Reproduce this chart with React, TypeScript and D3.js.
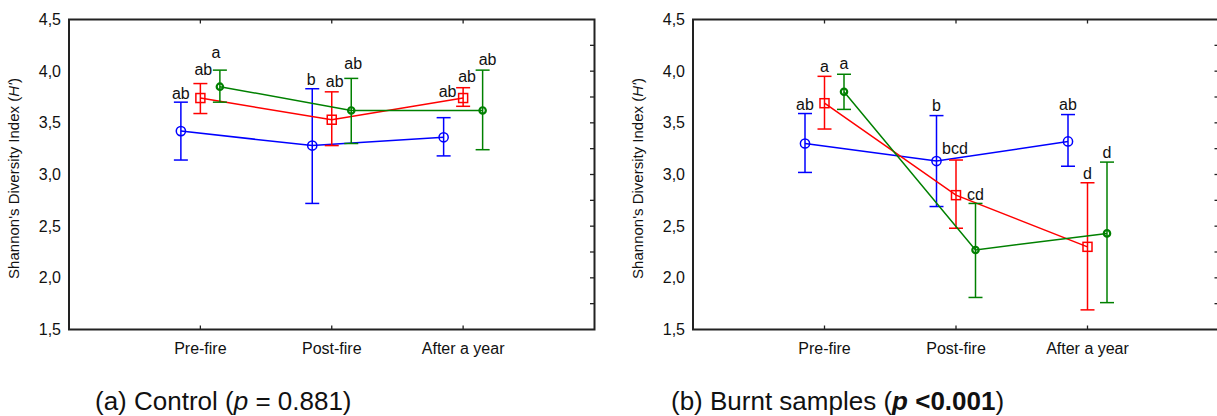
import React from "react";
import * as d3 from "d3";

const categories = ["Pre-fire", "Post-fire", "After a year"];
const seriesKeys = ["blue", "red", "green"];
const seriesColors = ["#0000ff", "#ff0000", "#008000"];
const yTicks = [1.5, 2.0, 2.5, 3.0, 3.5, 4.0, 4.5];

// (a) Control
const controlBlueMean = [3.42, 3.28, 3.36];
const controlBlueLow = [3.14, 2.72, 3.18];
const controlBlueHigh = [3.70, 3.83, 3.55];
const controlRedMean = [3.74, 3.53, 3.74];
const controlRedLow = [3.59, 3.28, 3.66];
const controlRedHigh = [3.88, 3.80, 3.84];
const controlGreenMean = [3.85, 3.62, 3.62];
const controlGreenLow = [3.70, 3.30, 3.24];
const controlGreenHigh = [4.01, 3.93, 4.01];
const controlBlueLetters = ["ab", "b", "ab"];
const controlRedLetters = ["ab", "ab", "ab"];
const controlGreenLetters = ["a", "ab", "ab"];

// (b) Burnt samples
const burntBlueMean = [3.30, 3.13, 3.32];
const burntBlueLow = [3.02, 2.69, 3.08];
const burntBlueHigh = [3.59, 3.57, 3.58];
const burntRedMean = [3.69, 2.80, 2.30];
const burntRedLow = [3.44, 2.48, 1.69];
const burntRedHigh = [3.95, 3.14, 2.92];
const burntGreenMean = [3.80, 2.27, 2.43];
const burntGreenLow = [3.63, 1.81, 1.76];
const burntGreenHigh = [3.97, 2.72, 3.12];
const burntBlueLetters = ["ab", "b", "ab"];
const burntRedLetters = ["a", "bcd", "d"];
const burntGreenLetters = ["a", "cd", "d"];

// label layout offsets (px) [series][category] -> [dx, dy above error top]
const controlLabelOffsets = [
  [[0, -3], [-1, -4], [4, -21]],
  [[3, -9], [3, -5], [4, -6]],
  [[-4, -12], [2, -9], [5, -5]],
];
const burntLabelOffsets = [
  [[0, -4], [0, -5], [0, -5]],
  [[0, -4], [-1, -6], [0, -4]],
  [[0, -5], [0, -3], [0, -4]],
];

const FONT = "'Liberation Sans', Arial, Helvetica, sans-serif";

type Series = { mean: number[]; low: number[]; high: number[]; letters: string[] };

function Marker({ kind, x, y, color }: { kind: number; x: number; y: number; color: string }) {
  if (kind === 0) return <circle cx={x} cy={y} r={4.6} fill="none" stroke={color} strokeWidth={1.5} />;
  if (kind === 1) return <rect x={x - 4.5} y={y - 4.5} width={9} height={9} fill="none" stroke={color} strokeWidth={1.5} />;
  return <circle cx={x} cy={y} r={3.2} fill="none" stroke={color} strokeWidth={2.2} />;
}

function Panel({ left, right, series, offsets }: { left: number; right: number; series: Series[]; offsets: number[][][] }) {
  const top = 19.5;
  const bottom = 329.5;
  const x = d3.scaleLinear().domain([0, 4]).range([left, right]);
  const y = d3.scaleLinear().domain([1.5, 4.5]).range([bottom, top]);
  const off = d3.scalePoint<string>().domain(seriesKeys).range([-19.5, 19.5]);
  const minor = d3.range(1.75, 4.5, 0.25);
  const cap = 7;
  const line = d3.line<[number, number]>().x((d) => d[0]).y((d) => d[1]);
  return (
    <g>
      <path d={`M${left},${top}H${right}V${bottom}H${left}Z`} fill="none" stroke="#222" strokeWidth={2} />
      {categories.map((c, i) => (
        <g key={c}>
          <line x1={x(i + 1)} x2={x(i + 1)} y1={bottom} y2={bottom - 4} stroke="#222" strokeWidth={1.3} />
          <line x1={x(i + 1)} x2={x(i + 1)} y1={top} y2={top + 4} stroke="#222" strokeWidth={1.3} />
          <text x={x(i + 1)} y={354} textAnchor="middle" fontSize={16} fontFamily={FONT} fill="#111">{c}</text>
        </g>
      ))}
      {minor.map((v) => (
        <line key={v} x1={right - 4.5} x2={right} y1={y(v)} y2={y(v)} stroke="#222" strokeWidth={1.3} />
      ))}
      {yTicks.map((v) => (
        <text key={v} x={left - 8} y={y(v) + 5.5} textAnchor="end" fontSize={16} fontFamily={FONT} fill="#111">
          {d3.format(".1f")(v).replace(".", ",")}
        </text>
      ))}
      <text transform={`translate(${left - 50},${(top + bottom) / 2 + 4}) rotate(-90)`} textAnchor="middle" fontSize={15} fontFamily={FONT} fill="#111">
        Shannon's Diversity Index (<tspan fontStyle="italic">H'</tspan>)
      </text>
      {series.map((s, si) => {
        const color = seriesColors[si];
        const pts: [number, number][] = s.mean.map((m, i) => [x(i + 1) + (off(seriesKeys[si]) as number), y(m)]);
        return (
          <g key={si}>
            <path d={line(pts) || ""} fill="none" stroke={color} strokeWidth={1.5} />
            {s.mean.map((m, i) => {
              const px = pts[i][0];
              return (
                <g key={i}>
                  <line x1={px} x2={px} y1={y(s.high[i])} y2={y(s.low[i])} stroke={color} strokeWidth={1.5} />
                  <line x1={px - cap} x2={px + cap} y1={y(s.high[i])} y2={y(s.high[i])} stroke={color} strokeWidth={1.5} />
                  <line x1={px - cap} x2={px + cap} y1={y(s.low[i])} y2={y(s.low[i])} stroke={color} strokeWidth={1.5} />
                  <Marker kind={si} x={px} y={pts[i][1]} color={color} />
                </g>
              );
            })}
          </g>
        );
      })}
      {series.map((s, si) =>
        s.letters.map((l, i) => (
          <text key={`${si}-${i}`} x={x(i + 1) + (off(seriesKeys[si]) as number) + offsets[si][i][0]} y={y(s.high[i]) + offsets[si][i][1]} textAnchor="middle" fontSize={16} fontFamily={FONT} fill="#111">
            {l}
          </text>
        ))
      )}
    </g>
  );
}

export default function App() {
  const control: Series[] = [
    { mean: controlBlueMean, low: controlBlueLow, high: controlBlueHigh, letters: controlBlueLetters },
    { mean: controlRedMean, low: controlRedLow, high: controlRedHigh, letters: controlRedLetters },
    { mean: controlGreenMean, low: controlGreenLow, high: controlGreenHigh, letters: controlGreenLetters },
  ];
  const burnt: Series[] = [
    { mean: burntBlueMean, low: burntBlueLow, high: burntBlueHigh, letters: burntBlueLetters },
    { mean: burntRedMean, low: burntRedLow, high: burntRedHigh, letters: burntRedLetters },
    { mean: burntGreenMean, low: burntGreenLow, high: burntGreenHigh, letters: burntGreenLetters },
  ];
  return (
    <svg width={1217} height={416} style={{ position: "absolute", left: 0, top: 0, background: "#fff" }}>
      <rect width={1217} height={416} fill="#fff" />
      <Panel left={69} right={594.5} series={control} offsets={controlLabelOffsets} />
      <Panel left={693} right={1219} series={burnt} offsets={burntLabelOffsets} />
      <text x={95} y={410} fontSize={26} fontFamily={FONT} fill="#111">
        (a) Control (<tspan fontStyle="italic">p</tspan> = 0.881)
      </text>
      <text x={671} y={410} fontSize={26} fontFamily={FONT} fill="#111">
        (b) Burnt samples (<tspan fontStyle="italic" fontWeight="bold">p</tspan><tspan fontWeight="bold"> &lt;0.001</tspan>)
      </text>
    </svg>
  );
}
